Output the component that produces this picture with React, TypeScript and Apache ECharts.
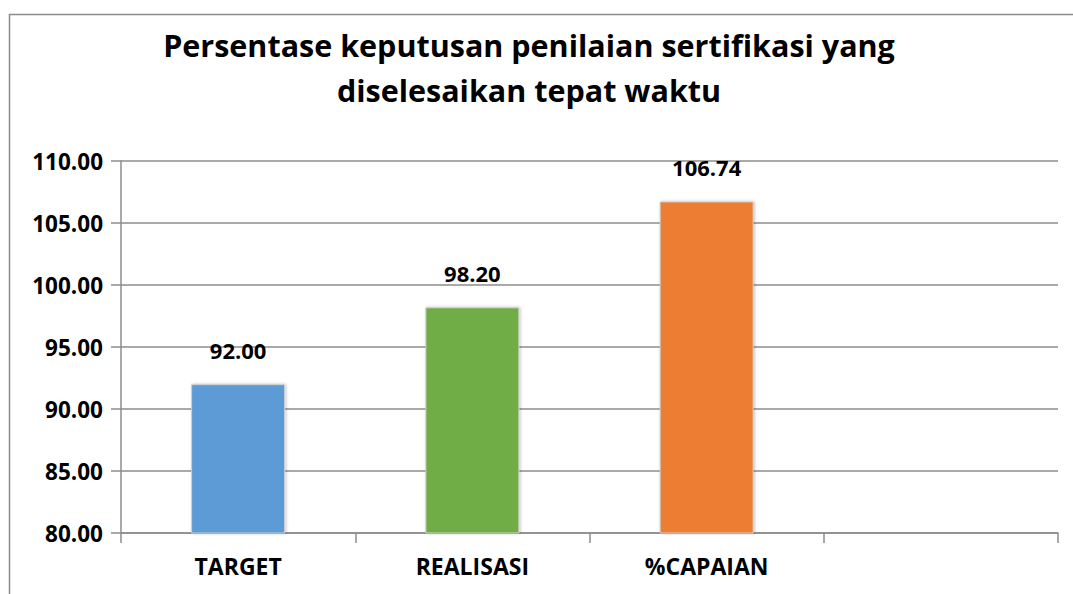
import React, { useEffect, useRef } from "react";
import * as echarts from "echarts";

const categories = ["TARGET", "REALISASI", "%CAPAIAN", ""];
const values = [92.0, 98.2, 106.74, null];
const barColors = ["#5B9BD5", "#70AD47", "#ED7D31", "#A5A5A5"];
const titleLines = ["Persentase keputusan penilaian sertifikasi yang", "diselesaikan tepat waktu"];

const FONT = "'Open Sans', 'Noto Sans', sans-serif";

export default function App() {
  const ref = useRef<HTMLDivElement>(null);
  useEffect(() => {
    document.body.style.margin = "0";
    const chart = echarts.init(ref.current!, null, { renderer: "svg" });
    chart.setOption({
      animation: false,
      backgroundColor: "#ffffff",
      title: {
        text: titleLines.join("\n"),
        left: 524,
        top: 17,
        textAlign: "center",
        textStyle: { fontFamily: FONT, fontWeight: "bold", fontSize: 30.5, lineHeight: 45, color: "#000" },
      },
      graphic: [
        {
          type: "rect",
          shape: { x: 9.5, y: 14.5, width: 1100, height: 700 },
          style: { fill: "none", stroke: "#8c8c8c", lineWidth: 1.5 },
          silent: true,
        },
      ],
      grid: { left: 121, right: 15, top: 161, bottom: 61 },
      xAxis: {
        type: "category",
        data: categories,
        axisLine: { lineStyle: { color: "#8c8c8c", width: 1.5 } },
        axisTick: { show: true, length: 10, lineStyle: { color: "#8c8c8c", width: 1.5 } },
        axisLabel: { fontFamily: FONT, fontWeight: "bold", fontSize: 23, color: "#000", margin: 21 },
      },
      yAxis: {
        type: "value",
        min: 80,
        max: 110,
        interval: 5,
        axisLine: { show: true, lineStyle: { color: "#8c8c8c", width: 1.5 } },
        axisTick: { show: true, length: 10, lineStyle: { color: "#8c8c8c", width: 1.5 } },
        splitLine: { lineStyle: { color: "#8c8c8c", width: 1.5 } },
        axisLabel: {
          fontFamily: FONT,
          fontWeight: "bold",
          fontSize: 22.5,
          color: "#000",
          margin: 18,
          formatter: (v: number) => v.toFixed(2),
        },
      },
      series: [
        {
          type: "bar",
          barWidth: 94,
          data: values.map((v, i) => ({
            value: v,
            itemStyle: {
              color: barColors[i],
              borderColor: "#d0d0d0",
              borderWidth: 1,
              shadowColor: "rgba(0,0,0,0.25)",
              shadowBlur: 3,
              shadowOffsetX: 1,
              shadowOffsetY: 0,
            },
          })),
          label: {
            show: true,
            position: "top",
            distance: 23,
            fontFamily: FONT,
            fontWeight: "bold",
            fontSize: 22,
            color: "#000",
            formatter: (p: any) => (p.value == null ? "" : Number(p.value).toFixed(2)),
          },
        },
      ],
    });
    return () => chart.dispose();
  }, []);
  return <div ref={ref} style={{ width: 1073, height: 594 }} />;
}
